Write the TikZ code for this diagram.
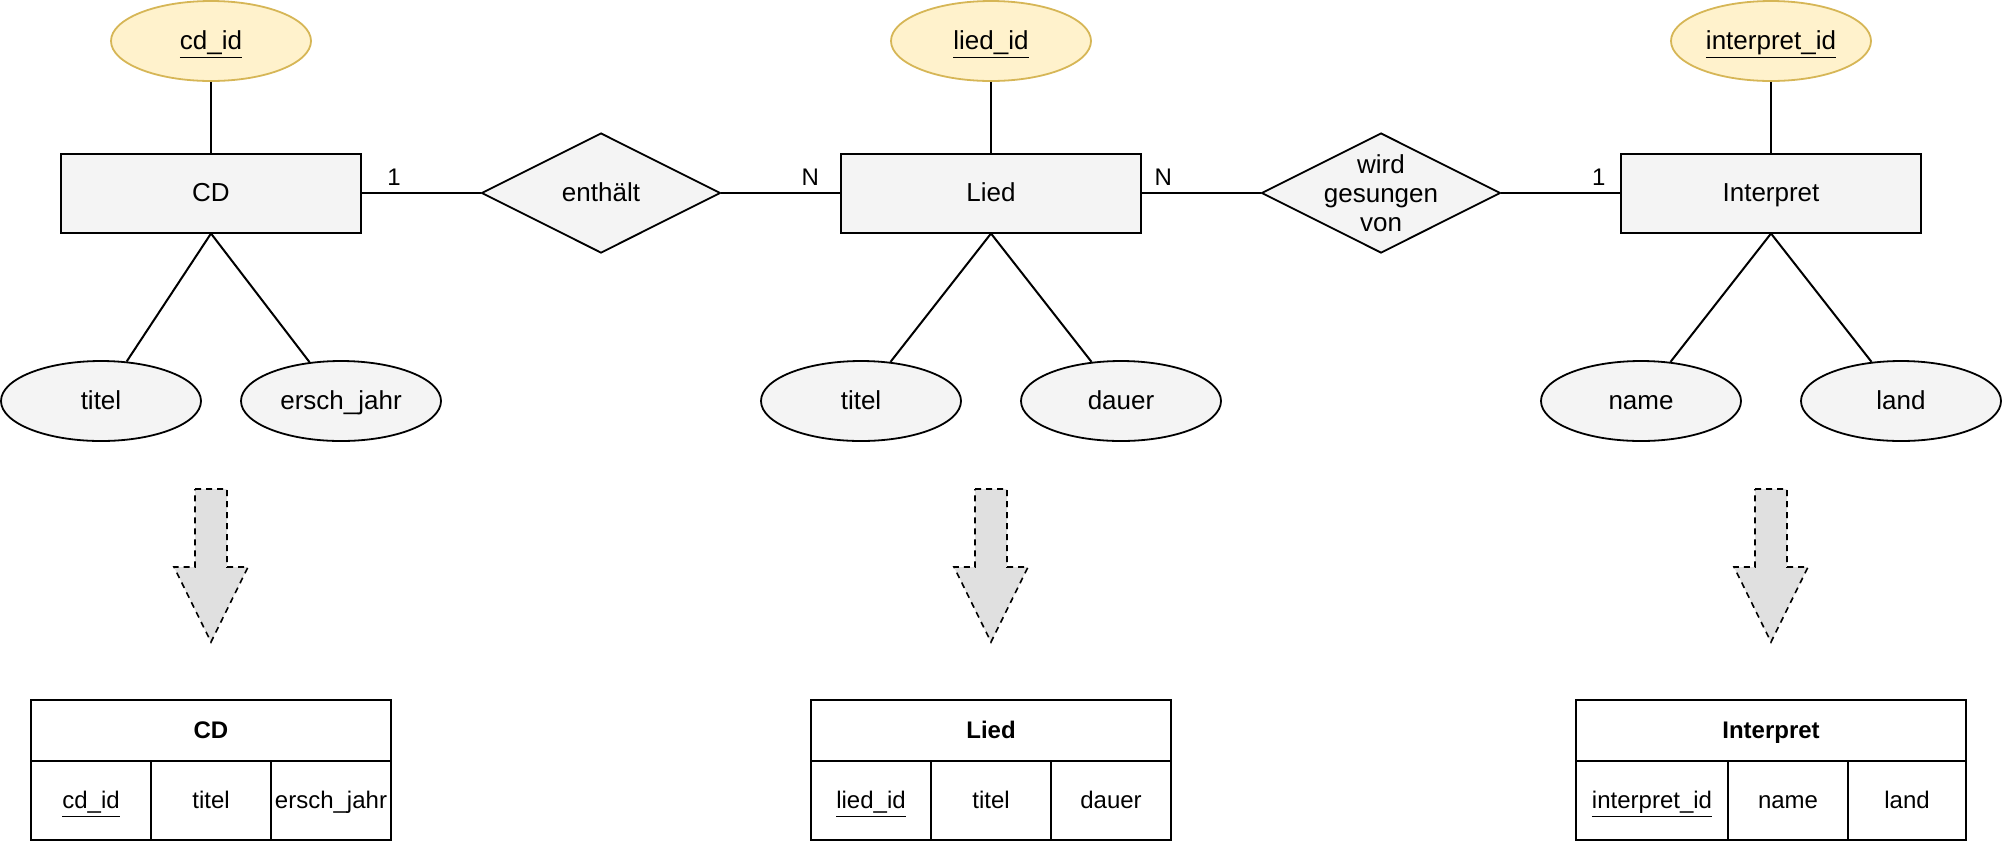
\documentclass[tikz,border=0pt]{standalone}
\usepackage{fontspec}
\setmainfont{Liberation Sans}
\usetikzlibrary{shapes.geometric,positioning}
\definecolor{grau}{HTML}{F4F4F4}
\definecolor{gelb}{HTML}{FFF2CC}
\definecolor{gelbrand}{HTML}{D6B656}
\definecolor{pfeilgrau}{HTML}{E0E0E0}
\tikzset{
  gross/.style={text height=11.2pt,text depth=2.7pt},
  klein/.style={text height=10.5pt,text depth=2.5pt,font=\fontsize{12}{14}\selectfont},
  entity/.style={gross,draw,fill=grau,line width=1pt,minimum width=150pt,minimum height=39.5pt},
  attr/.style={gross,ellipse,draw,fill=grau,line width=0.9pt,minimum width=100pt,minimum height=40pt,inner sep=1pt},
  keyattr/.style={attr,fill=gelb,draw=gelbrand},
  rel/.style={gross,diamond,draw,fill=grau,line width=0.9pt,minimum width=119.5pt,minimum height=60pt,inner sep=0pt},
  card/.style={text depth=2.5pt,font=\fontsize{12}{14}\selectfont,above=0pt,inner sep=1pt},
  kopf/.style={klein,draw,line width=1pt,outer sep=0pt,minimum height=30.5pt,font=\fontsize{12}{14}\selectfont\bfseries},
  zelle/.style={klein,draw,line width=1pt,outer sep=0pt,inner sep=1pt,minimum height=39.5pt,minimum width=60pt},
  pfeil/.style={fill=pfeilgrau,line width=0.8pt,dash pattern=on 3pt off 2.5pt}
}
\begin{document}
\begin{tikzpicture}[x=0.5pt,y=-0.5pt,line width=1pt,font=\fontsize{13}{14.5}\selectfont]
  \useasboundingbox (0,0) rectangle (2002,842);
  % --- Entitäten ---
  \node[entity] (cd) at (211,193) {CD};
  \node[entity] (lied) at (991,193) {Lied};
  \node[entity] (interpret) at (1771,193) {Interpret};
  % --- Beziehungen ---
  \node[rel] (enthaelt) at (601,193) {enthält};
  \node[rel,label={[align=center,inner sep=0pt]center:wird\\gesungen\\von}] (singt) at (1381,193) {};
  % --- Schlüsselattribute ---
  \node[keyattr] (cdid) at (211,41) {\underline{cd\_id}};
  \node[keyattr] (liedid) at (991,41) {\underline{lied\_id}};
  \node[keyattr] (interpretid) at (1771,41) {\underline{interpret\_id}};
  % --- Attribute ---
  \node[attr] (cdtitel) at (101,401) {titel};
  \node[attr] (cdjahr) at (341,401) {ersch\_jahr};
  \node[attr] (liedtitel) at (861,401) {titel};
  \node[attr] (dauer) at (1121,401) {dauer};
  \node[attr] (name) at (1641,401) {name};
  \node[attr] (land) at (1901,401) {land};
  % --- Verbindungen ---
  \draw (cdid) -- (cd);
  \draw (liedid) -- (lied);
  \draw (interpretid) -- (interpret);
  \draw (cd.south) -- (cdtitel.57) (cd.south) -- (cdjahr.129);
  \draw (lied.south) -- (liedtitel.53) (lied.south) -- (dauer.127);
  \draw (interpret.south) -- (name.53) (interpret.south) -- (land.127);
  \draw (cd) -- node[card,pos=0.27] {1} (enthaelt);
  \draw (enthaelt) -- node[card,pos=0.75] {N} (lied);
  \draw (lied) -- node[card,pos=0.18] {N} (singt);
  \draw (singt) -- node[card,pos=0.82] {1} (interpret);
  % --- Blockpfeile ---
  \foreach \x in {211,991,1771}{
    \draw[pfeil] ({\x-16},489) -- ({\x+16},489) -- ({\x+16},567) -- ({\x+37},567)
      -- (\x,642) -- ({\x-37},567) -- ({\x-16},567) -- cycle;
  }
  % --- Tabellen ---
  \node[kopf,minimum width=180pt] (cdkopf) at (211,730.5) {CD};
  \node[zelle,anchor=north west] (cdz1) at (cdkopf.south west) {\underline{cd\_id}};
  \node[zelle,right=0pt of cdz1] (cdz2) {titel};
  \node[zelle,right=0pt of cdz2] (cdz3) {ersch\_jahr};
  \node[kopf,minimum width=180pt] (liedkopf) at (991,730.5) {Lied};
  \node[zelle,anchor=north west] (liedz1) at (liedkopf.south west) {\underline{lied\_id}};
  \node[zelle,right=0pt of liedz1] (liedz2) {titel};
  \node[zelle,right=0pt of liedz2] (liedz3) {dauer};
  \node[kopf,minimum width=195pt] (ikopf) at (1771,730.5) {Interpret};
  \node[zelle,anchor=north west,minimum width=76pt] (iz1) at (ikopf.south west) {\underline{interpret\_id}};
  \node[zelle,right=0pt of iz1] (iz2) {name};
  \node[zelle,right=0pt of iz2,minimum width=59pt] (iz3) {land};
\end{tikzpicture}
\end{document}
